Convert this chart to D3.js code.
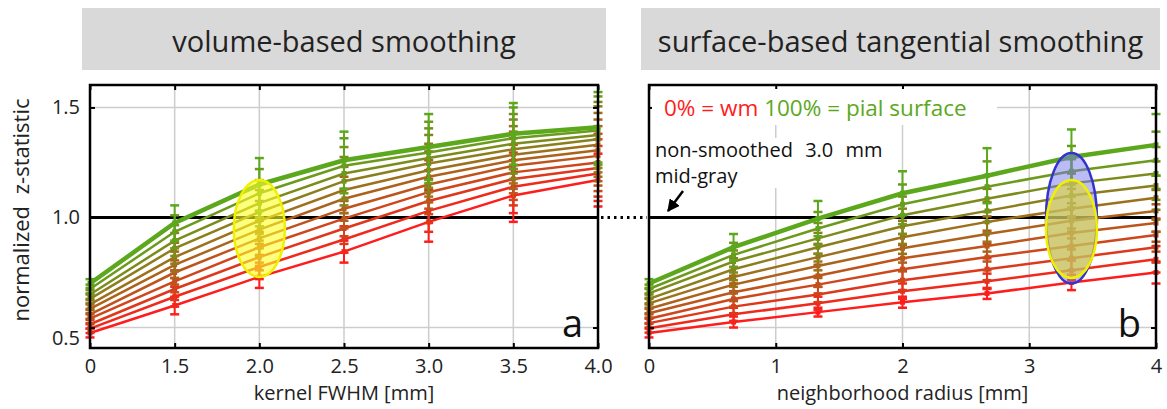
<!DOCTYPE html>
<html lang="en">
<head>
    <meta charset="UTF-8">
    <title>normalized z-statistic vs smoothing</title>
    <script src="https://d3js.org/d3.v7.min.js"></script>
    <style>
        html, body {
            margin: 0;
            padding: 0;
            background-color: #fff;
        }
        svg {
            display: block;
            font-family: "Open Sans", sans-serif;
        }
    </style>
</head>
<body>
    <div id="chart"></div>
    <script>
        // cortical depth of each line: 0% = wm ... 100% = pial surface
        const depths = ["0%", "10%", "20%", "30%", "40%", "50%", "60%", "70%", "80%", "90%", "100%"];

        // panel a: kernel FWHM [mm] (categorical spacing)
        const leftX = ["0", "1.5", "2.0", "2.5", "3.0", "3.5", "4.0"];
        const leftZ = [
            [0.475, 0.600, 0.730, 0.845, 0.980, 1.100, 1.170],
            [0.495, 0.640, 0.775, 0.900, 1.030, 1.140, 1.200],
            [0.515, 0.675, 0.820, 0.950, 1.075, 1.175, 1.225],
            [0.540, 0.710, 0.865, 0.995, 1.115, 1.205, 1.250],
            [0.560, 0.750, 0.905, 1.040, 1.150, 1.235, 1.280],
            [0.585, 0.785, 0.945, 1.085, 1.185, 1.260, 1.305],
            [0.605, 0.820, 0.985, 1.125, 1.215, 1.285, 1.330],
            [0.630, 0.860, 1.025, 1.165, 1.245, 1.310, 1.355],
            [0.650, 0.895, 1.065, 1.200, 1.270, 1.335, 1.375],
            [0.675, 0.935, 1.110, 1.235, 1.295, 1.360, 1.395],
            [0.700, 0.975, 1.150, 1.260, 1.320, 1.380, 1.410]
        ];
        const leftErr = [
            [0.02, 0.040, 0.050, 0.050, 0.090, 0.120, 0.120],
            [0.02, 0.045, 0.055, 0.060, 0.095, 0.120, 0.125],
            [0.02, 0.050, 0.060, 0.070, 0.100, 0.120, 0.130],
            [0.02, 0.050, 0.070, 0.080, 0.100, 0.125, 0.130],
            [0.02, 0.055, 0.080, 0.090, 0.110, 0.125, 0.135],
            [0.02, 0.060, 0.085, 0.100, 0.115, 0.130, 0.140],
            [0.02, 0.065, 0.090, 0.105, 0.120, 0.130, 0.145],
            [0.02, 0.070, 0.100, 0.110, 0.130, 0.135, 0.150],
            [0.02, 0.070, 0.105, 0.120, 0.135, 0.135, 0.150],
            [0.02, 0.075, 0.110, 0.125, 0.140, 0.140, 0.155],
            [0.02, 0.080, 0.120, 0.130, 0.150, 0.140, 0.160]
        ];

        // panel b: neighborhood radius [mm]
        const rightX = [0, 0.667, 1.333, 2, 2.667, 3.333, 4];
        const rightTicks = [0, 1, 2, 3, 4];
        const rightZ = [
            [0.475, 0.525, 0.570, 0.615, 0.655, 0.705, 0.750],
            [0.497, 0.560, 0.610, 0.665, 0.710, 0.760, 0.810],
            [0.520, 0.595, 0.650, 0.715, 0.765, 0.815, 0.865],
            [0.540, 0.630, 0.695, 0.765, 0.820, 0.870, 0.920],
            [0.565, 0.660, 0.735, 0.815, 0.870, 0.930, 0.975],
            [0.585, 0.695, 0.780, 0.860, 0.925, 0.985, 1.030],
            [0.610, 0.730, 0.820, 0.910, 0.980, 1.040, 1.090],
            [0.630, 0.765, 0.865, 0.960, 1.030, 1.100, 1.145],
            [0.655, 0.800, 0.905, 1.010, 1.085, 1.155, 1.200],
            [0.675, 0.830, 0.950, 1.060, 1.140, 1.210, 1.260],
            [0.700, 0.865, 0.995, 1.110, 1.190, 1.275, 1.330]
        ];
        const rightErr = [
            [0.02, 0.025, 0.020, 0.025, 0.025, 0.035, 0.050],
            [0.02, 0.030, 0.030, 0.035, 0.035, 0.045, 0.060],
            [0.02, 0.030, 0.035, 0.045, 0.050, 0.055, 0.070],
            [0.02, 0.035, 0.040, 0.050, 0.060, 0.065, 0.075],
            [0.02, 0.040, 0.050, 0.060, 0.070, 0.075, 0.085],
            [0.02, 0.040, 0.055, 0.065, 0.080, 0.080, 0.095],
            [0.02, 0.045, 0.060, 0.075, 0.090, 0.090, 0.100],
            [0.02, 0.050, 0.065, 0.080, 0.100, 0.100, 0.110],
            [0.02, 0.050, 0.070, 0.085, 0.105, 0.110, 0.120],
            [0.02, 0.055, 0.075, 0.090, 0.115, 0.115, 0.130],
            [0.02, 0.060, 0.080, 0.100, 0.125, 0.125, 0.140]
        ];

        const yTicks = [0.5, 1.0, 1.5];
        const refZ = 1.0;   // non-smoothed 3.0 mm mid-gray

        // highlighted ranges (ellipses)
        const leftHighlight = {x: "2.0", lo: 0.73, hi: 1.17};
        const rightHighlightBlue = {x: 3.333, lo: 0.70, hi: 1.293};
        const rightHighlightYellow = {x: 3.333, lo: 0.725, hi: 1.17};

        const W = 1167, H = 409;
        const plotTop = 85, plotBottom = 348;
        const svg = d3.select("#chart").append("svg")
            .attr("width", W)
            .attr("height", H);

        const y = d3.scaleLinear().domain([0.407, 1.602]).range([plotBottom, plotTop]);
        const xLeft = d3.scalePoint().domain(leftX).range([90, 598]);
        const xRight = d3.scaleLinear().domain([0, 4]).range([649, 1156]);
        const depthColor = d3.scaleLinear()
            .domain([0, depths.length - 1])
            .range(["#ff1c1c", "#5ba81c"])
            .interpolate(d3.interpolateRgb);

        // TITLE BOXES
        const titles = [
            {text: "volume-based smoothing", x0: 82, x1: 606},
            {text: "surface-based tangential smoothing", x0: 641, x1: 1160}
        ];
        titles.forEach(t => {
            svg.append("rect")
                .attr("x", t.x0).attr("y", 8)
                .attr("width", t.x1 - t.x0).attr("height", 62)
                .attr("fill", "#d9d9d9");
            svg.append("text")
                .attr("x", (t.x0 + t.x1) / 2).attr("y", 52)
                .attr("text-anchor", "middle")
                .style("font-size", "29px")
                .style("fill", "#222")
                .text(t.text);
        });

        function drawPanel(p) {
            const g = svg.append("g");
            const [x0, x1] = p.x.range();

            // grid
            g.selectAll(".vgrid").data(p.grid).join("line")
                .attr("x1", d => p.x(d)).attr("x2", d => p.x(d))
                .attr("y1", plotTop).attr("y2", plotBottom)
                .attr("stroke", "#cdcdcd").attr("stroke-width", 1.5);
            g.selectAll(".hgrid").data([0.5, 1.5]).join("line")
                .attr("x1", x0).attr("x2", x1)
                .attr("y1", d => y(d)).attr("y2", d => y(d))
                .attr("stroke", "#cdcdcd").attr("stroke-width", 1.5);

            // reference line
            g.append("line")
                .attr("x1", x0).attr("x2", x1)
                .attr("y1", y(refZ)).attr("y2", y(refZ))
                .attr("stroke", "#000").attr("stroke-width", 3);

            const line = d3.line().x((d, j) => p.x(p.xs[j])).y(d => y(d));

            depths.forEach((dep, i) => {
                const c = depthColor(i);
                const s = g.append("g").attr("class", "series");
                // error bars
                p.z[i].forEach((v, j) => {
                    const cx = p.x(p.xs[j]);
                    const e = p.err[i][j];
                    s.append("line")
                        .attr("x1", cx).attr("x2", cx)
                        .attr("y1", y(v - e)).attr("y2", y(v + e))
                        .attr("stroke", c).attr("stroke-width", 2);
                    [v - e, v + e].forEach(w => {
                        s.append("line")
                            .attr("x1", cx - 4.5).attr("x2", cx + 4.5)
                            .attr("y1", y(w)).attr("y2", y(w))
                            .attr("stroke", c).attr("stroke-width", 2.5);
                    });
                    s.append("rect")
                        .attr("x", cx - 2.5).attr("y", y(v) - 2.5)
                        .attr("width", 5).attr("height", 5)
                        .attr("fill", c);
                });
                s.append("path")
                    .datum(p.z[i])
                    .attr("d", line)
                    .attr("fill", "none")
                    .attr("stroke", c)
                    .attr("stroke-width", i === depths.length - 1 ? 4.5 : 2.5);
            });

            // highlight ellipses
            p.highlights.forEach(h => {
                g.append("ellipse")
                    .attr("cx", p.x(h.x))
                    .attr("cy", y((h.lo + h.hi) / 2))
                    .attr("rx", 25.5)
                    .attr("ry", (y(h.lo) - y(h.hi)) / 2)
                    .attr("fill", h.fill)
                    .attr("stroke", h.stroke)
                    .attr("stroke-width", 2.5);
            });

            // axes, ticks pointing inward
            const ax = g.append("g").style("font-size", "20px");
            const clean = a => a.attr("font-size", null).attr("font-family", null)
                .call(b => b.select(".domain").remove());
            ax.append("g")
                .attr("transform", `translate(0,${plotBottom})`)
                .call(d3.axisBottom(p.x).tickValues(p.ticks).tickSize(-5).tickPadding(11).tickFormat(p.fmt))
                .call(clean);
            ax.append("g")
                .attr("transform", `translate(0,${plotTop})`)
                .call(d3.axisTop(p.x).tickValues(p.ticks).tickSize(-5).tickFormat(""))
                .call(clean);
            const yl = ax.append("g")
                .attr("transform", `translate(${x0},0)`)
                .call(d3.axisLeft(y).tickValues(yTicks).tickSize(-5).tickPadding(10)
                    .tickFormat(p.yLabels ? d3.format(".1f") : ""))
                .call(clean);
            yl.selectAll(".tick text").filter(d => d === 0.5).attr("dy", "0.85em");
            ax.append("g")
                .attr("transform", `translate(${x1},0)`)
                .call(d3.axisRight(y).tickValues([0.5, 1.5]).tickSize(-5).tickFormat(""))
                .call(clean);
            ax.selectAll(".tick line").attr("stroke", "#000").attr("stroke-width", 2);
            ax.selectAll(".tick text").attr("fill", "#222");

            g.append("rect")
                .attr("x", x0).attr("y", plotTop)
                .attr("width", x1 - x0).attr("height", plotBottom - plotTop)
                .attr("fill", "none").attr("stroke", "#000").attr("stroke-width", 2.5);

            g.append("text")
                .attr("x", (x0 + x1) / 2).attr("y", 400)
                .attr("text-anchor", "middle")
                .style("font-size", "20px").style("fill", "#222")
                .text(p.xTitle);

            g.append("text")
                .attr("x", x1 - 15).attr("y", 337)
                .attr("text-anchor", "end")
                .style("font-size", "38px").style("fill", "#111")
                .text(p.letter);
        }

        drawPanel({
            x: xLeft, xs: leftX, z: leftZ, err: leftErr,
            ticks: leftX, grid: leftX.slice(1, -1), fmt: d => d,
            yLabels: true, xTitle: "kernel FWHM [mm]", letter: "a",
            highlights: [
                Object.assign({fill: "rgba(255,255,40,0.6)", stroke: "#f2f000"}, leftHighlight)
            ]
        });

        drawPanel({
            x: xRight, xs: rightX, z: rightZ, err: rightErr,
            ticks: rightTicks, grid: [1, 2, 3], fmt: d3.format("d"),
            yLabels: false, xTitle: "neighborhood radius [mm]", letter: "b",
            highlights: [
                Object.assign({fill: "rgba(120,120,235,0.5)", stroke: "#3434cc"}, rightHighlightBlue),
                Object.assign({fill: "rgba(225,215,45,0.6)", stroke: "#f2f000"}, rightHighlightYellow)
            ]
        });

        // dotted link between panels at the reference level
        svg.append("line")
            .attr("x1", 601).attr("x2", 647)
            .attr("y1", y(refZ)).attr("y2", y(refZ))
            .attr("stroke", "#000").attr("stroke-width", 3)
            .attr("stroke-dasharray", "2.5,4");

        // y axis title
        svg.append("text")
            .attr("transform", "translate(29,210) rotate(-90)")
            .attr("text-anchor", "middle")
            .style("font-size", "22px").style("fill", "#222")
            .style("word-spacing", "6px")
            .text("normalized z-statistic");

        // legend (depth colours)
        svg.append("rect")
            .attr("x", 652).attr("y", 89)
            .attr("width", 345).attr("height", 36)
            .attr("fill", "#fff");
        const leg = svg.append("text")
            .attr("x", 664).attr("y", 116)
            .style("font-size", "22.5px");
        leg.append("tspan").attr("fill", depthColor(0)).text(depths[0] + " = wm ");
        leg.append("tspan").attr("fill", depthColor(depths.length - 1)).text(depths[depths.length - 1] + " = pial surface");

        // annotation of the reference line
        svg.append("rect")
            .attr("x", 652).attr("y", 138)
            .attr("width", 245).attr("height", 50)
            .attr("fill", "#fff");
        svg.append("text")
            .attr("x", 655).attr("y", 157)
            .style("font-size", "20px").style("fill", "#111")
            .style("word-spacing", "7px")
            .text("non-smoothed 3.0 mm");
        svg.append("text")
            .attr("x", 655).attr("y", 183)
            .style("font-size", "20px").style("fill", "#111")
            .text("mid-gray");

        svg.append("defs").append("marker")
            .attr("id", "arrow")
            .attr("viewBox", "0 0 10 10")
            .attr("refX", 9).attr("refY", 5)
            .attr("markerWidth", 5).attr("markerHeight", 5)
            .attr("orient", "auto")
            .append("path").attr("d", "M0,0 L10,5 L0,10 z").attr("fill", "#000");
        svg.append("line")
            .attr("x1", 683).attr("y1", 191)
            .attr("x2", 668).attr("y2", 211)
            .attr("stroke", "#000").attr("stroke-width", 2.5)
            .attr("marker-end", "url(#arrow)");
    </script>
</body>
</html>
